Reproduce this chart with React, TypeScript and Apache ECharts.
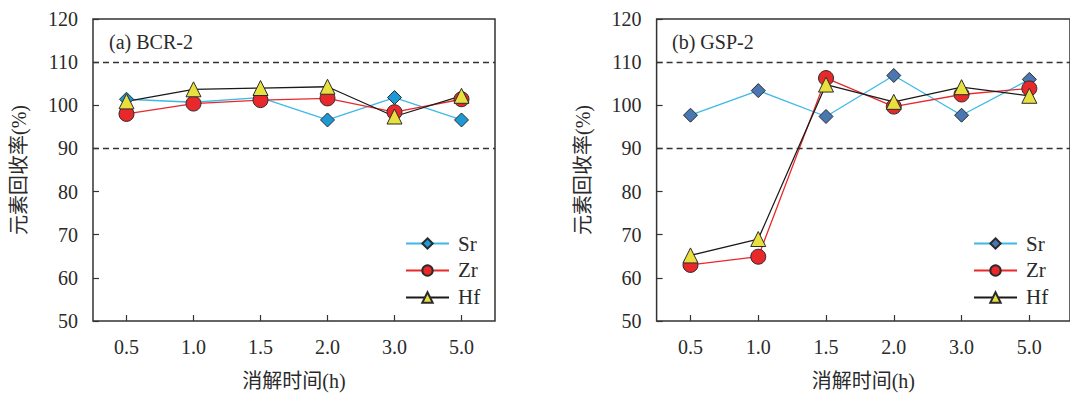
import React, { useEffect, useRef } from "react";
import * as echarts from "echarts";

const timeLabels = ["0.5", "1.0", "1.5", "2.0", "3.0", "5.0"];
const yTicks = [50, 120, 10];

const bcrSr = [101.4, 100.7, 101.8, 96.6, 101.8, 96.6];
const bcrZr = [98.0, 100.4, 101.2, 101.6, 98.4, 101.4];
const bcrHf = [100.9, 103.7, 104.0, 104.3, 97.4, 102.2];

const gspSr = [97.7, 103.4, 97.4, 106.9, 97.7, 106.0];
const gspZr = [63.0, 64.9, 106.3, 99.7, 102.5, 103.9];
const gspHf = [65.2, 69.0, 104.8, 100.8, 104.2, 102.2];

const limits = [110, 90];

const FONT = "'Liberation Serif', 'Times New Roman', 'Noto Sans CJK SC', serif";
const TXT = "#2a2a2a";

function buildOption(panel: "a" | "b") {
  const isA = panel === "a";
  const sr = isA ? bcrSr : gspSr;
  const zr = isA ? bcrZr : gspZr;
  const hf = isA ? bcrHf : gspHf;
  const srFill = isA ? "#1d9ad6" : "#4a76b2";
  const idx = timeLabels.map((_, i) => i);

  const xAxis: any = isA
    ? {
        type: "category",
        data: timeLabels,
        boundaryGap: true,
        axisLine: { show: false, onZero: false },
        axisTick: { show: true, inside: true, length: 6, alignWithLabel: true, lineStyle: { color: "#333", width: 1.2 } },
        axisLabel: { color: TXT, fontSize: 20, fontFamily: FONT, margin: 16 },
        name: "消解时间(h)",
        nameLocation: "middle",
        nameGap: 50,
        nameTextStyle: { color: TXT, fontSize: 20, fontFamily: FONT },
      }
    : {
        type: "value",
        min: -0.5,
        max: 5.6,
        splitLine: { show: false },
        axisLine: { show: false, onZero: false },
        axisTick: { show: true, inside: true, length: 6, customValues: idx, lineStyle: { color: "#333", width: 1.2 } },
        axisLabel: {
          color: TXT,
          fontSize: 20,
          fontFamily: FONT,
          margin: 16,
          customValues: idx,
          formatter: (v: number) => timeLabels[Math.round(v)] ?? "",
        },
        name: "消解时间(h)",
        nameLocation: "middle",
        nameGap: 50,
        nameTextStyle: { color: TXT, fontSize: 20, fontFamily: FONT },
      };

  const xData = (vals: number[]) => (isA ? vals : vals.map((v, i) => [i, v]));

  const markerBorder = { borderColor: "#2b2b2b", borderWidth: 1 };

  return {
    animation: false,
    title: {
      text: isA ? "(a) BCR-2" : "(b) GSP-2",
      left: isA ? 104 : 127,
      top: 27,
      textStyle: { color: TXT, fontSize: 20, fontWeight: "normal", fontFamily: FONT },
    },
    legend: {
      orient: "vertical",
      left: isA ? 400 : 428,
      top: 228,
      itemWidth: 43,
      itemHeight: 13,
      itemGap: 6,
      data: ["Sr", "Zr", "Hf"],
      textStyle: { color: TXT, fontSize: 21, fontFamily: FONT, padding: [0, 0, 0, 4] },
    },
    grid: isA
      ? { left: 93, top: 19, width: 402, height: 302, show: true, borderColor: "#333", borderWidth: 1.5, backgroundColor: "transparent" }
      : { left: 116.6, top: 19, width: 415.4, height: 302, show: true, borderColor: "#333", borderWidth: 1.5, backgroundColor: "transparent" },
    xAxis,
    yAxis: {
      type: "value",
      min: yTicks[0],
      max: yTicks[1],
      interval: yTicks[2],
      splitLine: { show: false },
      axisLine: { show: false, onZero: false },
      axisTick: { show: true, inside: true, length: 6, lineStyle: { color: "#333", width: 1.2 } },
      axisLabel: { color: TXT, fontSize: 20, fontFamily: FONT, margin: 15 },
      name: "元素回收率(%)",
      nameLocation: "middle",
      nameGap: 64,
      nameTextStyle: { color: TXT, fontSize: 20, fontFamily: FONT },
    },
    series: [
      {
        name: "Sr",
        type: "line",
        data: xData(sr),
        symbol: "diamond",
        symbolSize: 14,
        lineStyle: { color: "#3cb9e8", width: 1.3 },
        itemStyle: { color: srFill, ...markerBorder },
        markLine: {
          silent: true,
          symbol: "none",
          label: { show: false },
          lineStyle: { color: "#333", type: [6, 4], width: 1.3 },
          data: limits.map((v) => ({ yAxis: v })),
        },
      },
      {
        name: "Zr",
        type: "line",
        data: xData(zr),
        symbol: "circle",
        symbolSize: 15,
        lineStyle: { color: "#e8282b", width: 1.3 },
        itemStyle: { color: "#e8282b", ...markerBorder },
      },
      {
        name: "Hf",
        type: "line",
        data: xData(hf),
        symbol: "triangle",
        symbolSize: 15,
        lineStyle: { color: "#1a1a1a", width: 1.3 },
        itemStyle: { color: "#e8e03e", ...markerBorder },
      },
    ],
  };
}

function Panel({ panel, width }: { panel: "a" | "b"; width: number }) {
  const ref = useRef<HTMLDivElement>(null);
  useEffect(() => {
    if (!ref.current) return;
    const chart = echarts.init(ref.current, undefined, { renderer: "svg" });
    chart.setOption(buildOption(panel) as any);
    return () => chart.dispose();
  }, [panel]);
  return <div ref={ref} style={{ width, height: 397, flex: "none" }} />;
}

export default function App() {
  return (
    <div style={{ position: "fixed", left: 0, top: 0, width: 1070, height: 397, display: "flex", background: "#fff", overflow: "hidden" }}>
      <Panel panel="a" width={540} />
      <Panel panel="b" width={530} />
    </div>
  );
}
